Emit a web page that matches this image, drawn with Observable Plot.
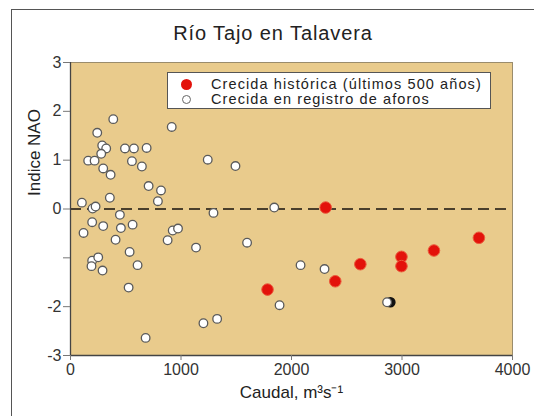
<!DOCTYPE html>
<html>
<head>
<meta charset="utf-8">
<script src="https://cdn.jsdelivr.net/npm/d3@7"></script>
<script src="https://cdn.jsdelivr.net/npm/@observablehq/plot@0.6"></script>
<style>
  html, body { margin: 0; padding: 0; background: #fff; }
  #wrap { position: relative; width: 534px; height: 416px; overflow: hidden; font-family: "Liberation Sans", Arial, sans-serif; }
  #topline { position: absolute; left: 11px; top: 9px; width: 523px; height: 0; border-top: 1.5px solid #555; }
  #leftline { position: absolute; left: 11px; top: 9px; width: 0; height: 407px; border-left: 1.5px solid #555; }
  #title { position: absolute; left: 0; width: 546px; top: 22px; text-align: center; font-size: 20px; letter-spacing: 0.9px; color: #222; }
  #chart { position: absolute; left: 0; top: 50px; }
  #legend { position: absolute; left: 167px; top: 72px; width: 324px; height: 37px; background: #fff; border: 1px solid #555; box-sizing: border-box; font-size: 14.5px; letter-spacing: 1.1px; color: #222; }
  .row { position: absolute; left: 0; height: 16px; line-height: 16px; }
  .row span.t { position: absolute; left: 43px; white-space: nowrap; }
  .dot { position: absolute; border-radius: 50%; }
</style>
</head>
<body>
<div id="wrap">
  <div id="topline"></div>
  <div id="leftline"></div>
  <div id="title">Río Tajo en Talavera</div>
  <div id="chart"></div>
  <div id="legend">
    <div class="row" style="top:3px"><div class="dot" style="left:13px;top:3px;width:11px;height:11px;background:#e3120b;"></div><span class="t">Crecida histórica (últimos 500 años)</span></div>
    <div class="row" style="top:18px"><div class="dot" style="left:14px;top:4px;width:7px;height:7px;background:#fff;border:1.3px solid #666;"></div><span class="t">Crecida en registro de aforos</span></div>
  </div>
</div>
<script>
// Historical floods (last 500 years)
const histX = [1783, 2309, 2396, 2623, 2995, 2995, 3289, 3696];
const histY = [-1.65, 0.03, -1.48, -1.13, -0.98, -1.17, -0.85, -0.59];

// Floods in gauging record
const gaugeX = [387,242,916,287,323,278,493,574,689,160,218,556,296,646,363,1242,707,819,356,791,103,200,227,447,1294,196,296,456,562,118,408,925,973,879,535,1136,196,251,190,290,607,526,1203,1327,680,1493,1844,1598,2082,2299,1892,2865];
const gaugeY = [1.84,1.56,1.68,1.30,1.24,1.13,1.24,1.24,1.25,0.99,0.99,0.98,0.83,0.87,0.70,1.01,0.47,0.38,0.23,0.16,0.13,0.01,0.05,-0.12,-0.08,-0.27,-0.35,-0.39,-0.32,-0.49,-0.63,-0.44,-0.40,-0.64,-0.88,-0.79,-1.06,-0.99,-1.17,-1.26,-1.15,-1.61,-2.34,-2.25,-2.64,0.88,0.03,-0.69,-1.15,-1.23,-1.97,-1.91];

// Dark point partly hidden behind a white one
const otherX = [2895];
const otherY = [-1.91];

const xTicks = [0, 1000, 2000, 3000, 4000];
const yTicks = [3, 2, 1, 0, -1, -2, -3];
const yTickLabels = ["3", "2", "1", "0", "", "-2", "-3"];

const hist = histX.map((x, i) => ({x, y: histY[i]}));
const gauge = gaugeX.map((x, i) => ({x, y: gaugeY[i]}));
const other = otherX.map((x, i) => ({x, y: otherY[i]}));

const chart = Plot.plot({
  width: 534,
  height: 366,
  marginLeft: 70,
  marginRight: 22,
  marginTop: 12,
  marginBottom: 61,
  style: {fontFamily: "'Liberation Sans', Arial, sans-serif", background: "transparent", overflow: "visible"},
  x: {domain: [0, 4000]},
  y: {domain: [-3, 3]},
  marks: [
    Plot.frame({fill: "#e9cb8c", stroke: "#9a8c6c", strokeWidth: 1}),
    Plot.ruleY([0], {stroke: "#4a3f2c", strokeWidth: 2, strokeDasharray: "11,6"}),
    Plot.ruleX([0], {stroke: "#444", strokeWidth: 1.3}),
    Plot.ruleY([-3], {stroke: "#444", strokeWidth: 1.3}),
    Plot.axisX({ticks: xTicks, tickSize: 5, tickPadding: 3, fontSize: 16, color: "#333", stroke: "#777", label: null, tickFormat: d => String(d)}),
    Plot.axisY({ticks: yTicks, tickSize: 7, tickPadding: 2, fontSize: 16, color: "#333", stroke: "#777", label: null,
      tickFormat: d => yTickLabels[yTicks.indexOf(d)]}),
    Plot.dot(other, {x: "x", y: "y", r: 4.5, fill: "#111", stroke: "#111"}),
    Plot.dot(gauge, {x: "x", y: "y", r: 4.3, fill: "#fff", stroke: "#5a5a5a", strokeWidth: 1.3}),
    Plot.dot(hist, {x: "x", y: "y", r: 5.8, fill: "#e3120b", stroke: "#ec5a3c", strokeWidth: 1}),
    Plot.text(["Caudal, m³s⁻¹"], {frameAnchor: "bottom", dy: 42, fontSize: 17, fill: "#222", letterSpacing: "0.8px"}),
    Plot.text(["Indice NAO"], {frameAnchor: "left", dx: -36, dy: -13, rotate: -90, fontSize: 17, fill: "#222"})
  ]
});
document.getElementById("chart").appendChild(chart);
</script>
</body>
</html>
